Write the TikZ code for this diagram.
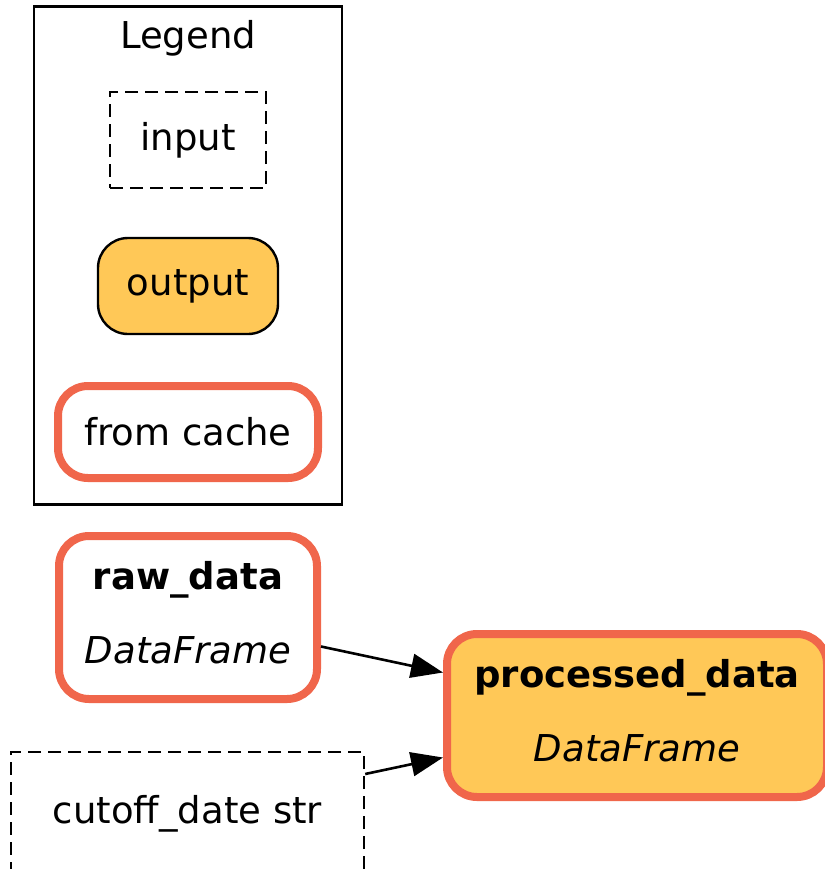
\documentclass[tikz,border=0pt]{standalone}
\usepackage{fontspec}
\setmainfont{DejaVu Sans}
\usetikzlibrary{arrows.meta,calc}
\definecolor{cachered}{HTML}{F0664B}
\definecolor{outfill}{HTML}{FFC857}
\begin{document}
\begin{tikzpicture}[>={Triangle[length=16pt,width=12pt]}, x=0.5pt, y=-0.5pt,
        font=\fontsize{18.5}{22}\selectfont,
        inputbox/.style={draw, dash pattern=on 6.5pt off 3.5pt, line width=1.2pt},
        outputbox/.style={fill=outfill, rounded corners=15pt},
        cached/.style={draw=cachered, line width=4pt, rounded corners=15pt},
        twoline/.style={align=center, font=\fontsize{18.5}{37}\selectfont, text height=49.5pt, text depth=3.5pt}]
        \useasboundingbox (0,0) rectangle (825,869);
        % legend
        \node (legend) at (188,255.5) [draw, line width=1.2pt, minimum width=154pt, minimum height=249pt] {};
        \node (legendtitle) at (188,38) {Legend};
        \node (input) at (188,140) [inputbox, minimum width=78pt, minimum height=48pt] {input};
        \node (output) at (188,286) [outputbox, draw, line width=1.2pt, minimum width=90pt, minimum height=48pt] {output};
        \node (cache) at (188,432) [cached, minimum width=130pt, minimum height=46pt] {from cache};
        % nodes
        \node (raw) at (188,617.5) [cached, twoline, minimum width=129pt, minimum height=81.5pt] {\textbf{raw\_data}\\\textit{DataFrame}};
        \node (proc) at (637,715.5) [cached, outputbox, twoline, minimum width=190pt, minimum height=81.5pt] {\textbf{processed\_data}\\\textit{DataFrame}};
        \node (cutoff) at (187.5,814) [inputbox, minimum width=176.5pt, minimum height=62pt] {cutoff\_date str};
        % edges
        \draw[->, line width=1.3pt] ($(raw.east)+(0,29)$) -- ($(proc.west)+(0,-43)$);
        \draw[->, line width=1.3pt] ($(cutoff.east)+(0,-40)$) -- ($(proc.west)+(0,42)$);
    \end{tikzpicture}
\end{document}
